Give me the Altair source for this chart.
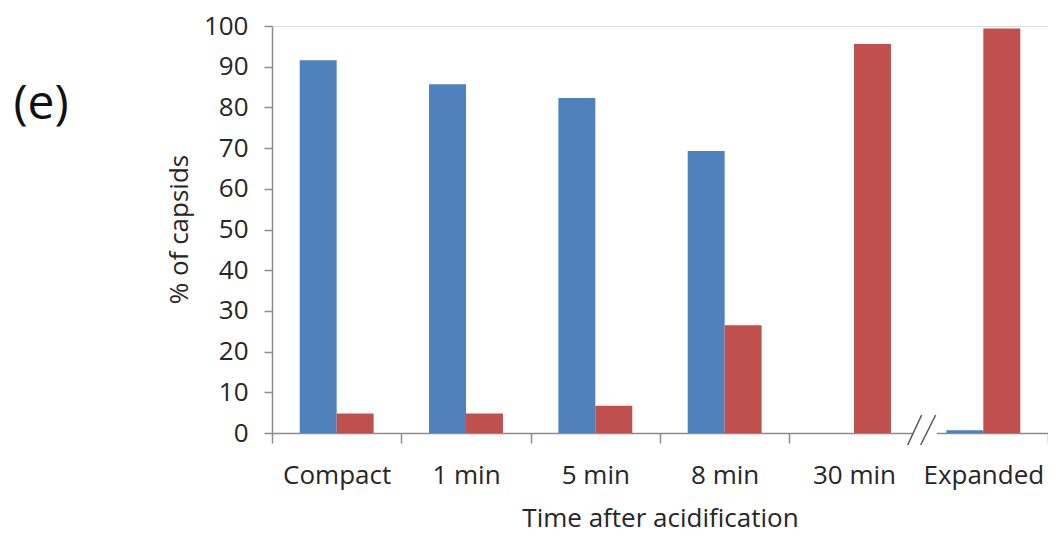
import altair as alt
import pandas as pd

categories = ["Compact", "1 min", "5 min", "8 min", "30 min", "Expanded"]
series = ["Compact capsids", "Expanded capsids"]
compact_vals = [91.6, 85.7, 82.3, 69.3, 0.0, 0.7]
expanded_vals = [4.8, 4.8, 6.7, 26.5, 95.6, 99.4]
colors = ["#4F81BD", "#C0504D"]
y_ticks = list(range(0, 101, 10))

rows = []
for c, a, b in zip(categories, compact_vals, expanded_vals):
    rows.append({"time": c, "state": series[0], "pct": a})
    rows.append({"time": c, "state": series[1], "pct": b})
df = pd.DataFrame(rows)

W, H = 776, 407
FONT = "Open Sans"
AXIS_COLOR = "#8C8C8C"
TEXT_COLOR = "#262626"

x_enc = alt.X(
    "time:N",
    sort=categories,
    scale=alt.Scale(paddingInner=0, paddingOuter=0),
    axis=alt.Axis(
        title="Time after acidification",
        labelAngle=0,
        labelFontSize=26,
        labelFont=FONT,
        labelColor=TEXT_COLOR,
        labelPadding=19,
        tickBand="extent",
        tickSize=10,
        tickColor=AXIS_COLOR,
        domainColor=AXIS_COLOR,
        domainWidth=1.5,
        tickWidth=1.5,
        titleFont=FONT,
        titleFontSize=26,
        titleFontWeight="normal",
        titleColor=TEXT_COLOR,
        titleY=85,
        titleBaseline="middle",
    ),
)

bars = alt.Chart(df).mark_bar().encode(
    x=x_enc,
    xOffset=alt.XOffset("state:N", sort=series,
                        scale=alt.Scale(paddingInner=0, paddingOuter=0.75)),
    y=alt.Y(
        "pct:Q",
        scale=alt.Scale(domain=[0, 100], nice=False),
        axis=alt.Axis(
            title="% of capsids",
            values=y_ticks,
            grid=False,
            labelFontSize=26,
            labelFont=FONT,
            labelColor=TEXT_COLOR,
            labelPadding=16,
            tickSize=8,
            tickColor=AXIS_COLOR,
            domainColor=AXIS_COLOR,
            domainWidth=1.5,
            tickWidth=1.5,
            titleFont=FONT,
            titleFontSize=26,
            titleFontWeight="normal",
            titleColor=TEXT_COLOR,
            titleX=-93,
            titleY=203,
            titleAngle=-90,
            titleAlign="center",
            titleBaseline="middle",
        ),
    ),
    color=alt.Color("state:N", sort=series,
                    scale=alt.Scale(domain=series, range=colors), legend=None),
)

# axis break decoration between "30 min" and "Expanded"
brk = W * 5 / 6
gap = alt.Chart(pd.DataFrame({"a": [0]})).mark_rect(color="white").encode(
    x=alt.value(brk - 6), x2=alt.value(brk + 18),
    y=alt.value(H - 4), y2=alt.value(H + 14),
)
slash1 = alt.Chart(pd.DataFrame({"a": [0]})).mark_rule(color="#555555", strokeWidth=1.5).encode(
    x=alt.value(brk - 11), x2=alt.value(brk + 3),
    y=alt.value(H + 12), y2=alt.value(H - 18),
)
slash2 = alt.Chart(pd.DataFrame({"a": [0]})).mark_rule(color="#555555", strokeWidth=1.5).encode(
    x=alt.value(brk + 2), x2=alt.value(brk + 17),
    y=alt.value(H + 12), y2=alt.value(H - 18),
)

panel = alt.Chart(pd.DataFrame({"t": ["(e)"]})).mark_text(
    font=FONT, fontSize=48, color="#111111", align="center", baseline="middle"
).encode(text="t:N", x=alt.value(-231), y=alt.value(79))

chart = alt.layer(bars, gap, slash1, slash2, panel).properties(
    width=W, height=H,
    padding={"left": 264, "top": 18, "right": 0, "bottom": 101},
    autosize=alt.AutoSizeParams(type="none"),
).configure_view(stroke=None).configure(background="white")

chart.save("out.html", embed_options={"renderer": "svg", "actions": False})
